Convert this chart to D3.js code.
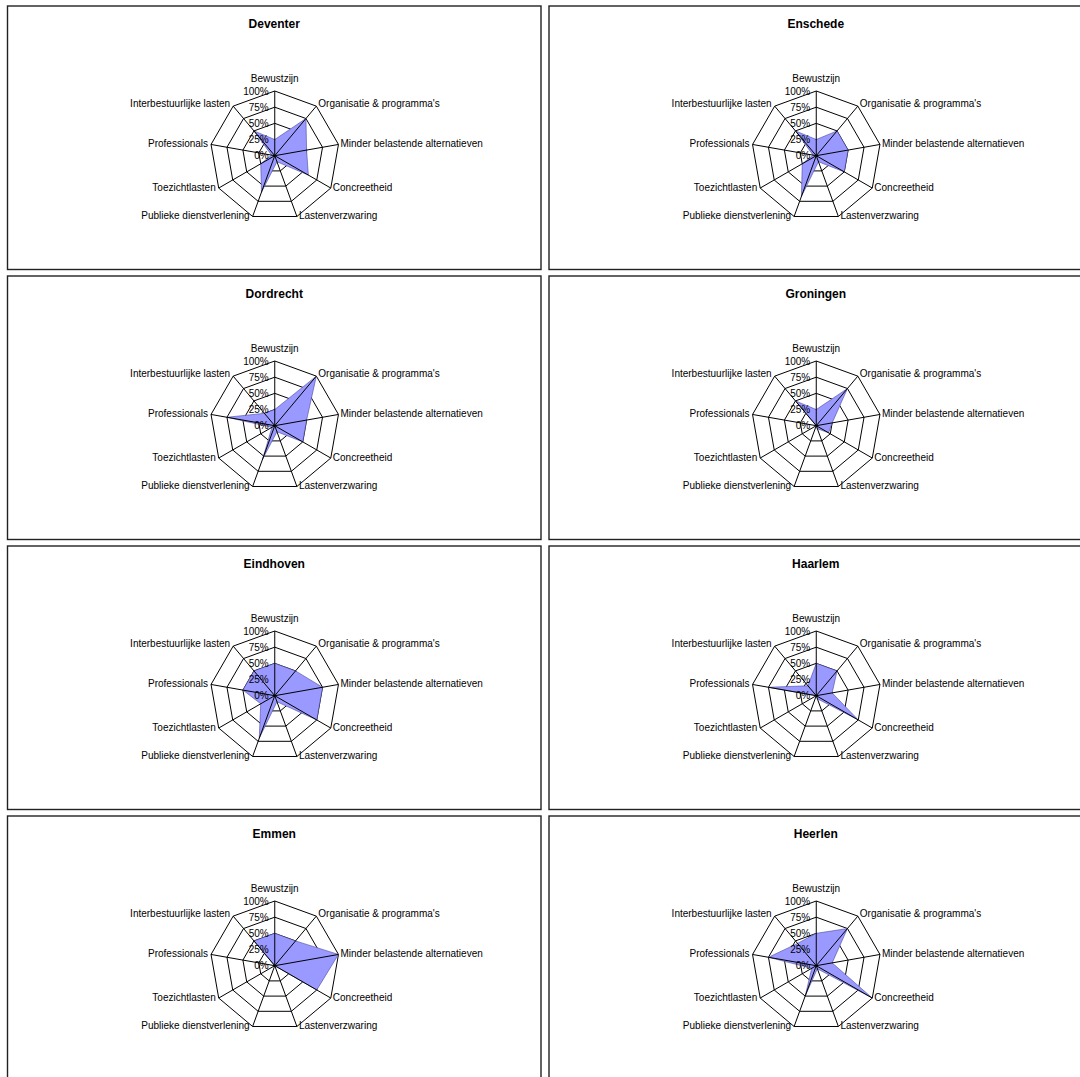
<!DOCTYPE html>
<html>
<head>
<meta charset="utf-8">
<script src="https://cdn.jsdelivr.net/npm/d3@7"></script>
<style>
html,body{margin:0;padding:0;background:#fff;}
svg{display:block;font-family:"Liberation Sans",Arial,sans-serif;}
</style>
</head>
<body>
<svg id="chart" width="1080" height="1077"></svg>
<script>
// ---- data ----
const categories = ["Bewustzijn", "Organisatie & programma's", "Minder belastende alternatieven", "Concreetheid", "Lastenverzwaring", "Publieke dienstverlening", "Toezichtlasten", "Professionals", "Interbestuurlijke lasten"];
const cities = ["Deventer", "Enschede", "Dordrecht", "Groningen", "Eindhoven", "Haarlem", "Emmen", "Heerlen"];
const deventer  = [0.25, 0.75, 0.50, 0.60, 0.10, 0.60, 0.25, 0.05, 0.50];
const enschede  = [0.25, 0.50, 0.50, 0.50, 0.10, 0.67, 0.25, 0.05, 0.50];
const dordrecht = [0.25, 1.00, 0.50, 0.50, 0.10, 0.55, 0.05, 0.75, 0.25];
const groningen = [0.25, 0.75, 0.25, 0.22, 0.05, 0.00, 0.00, 0.00, 0.50];
const eindhoven = [0.50, 0.50, 0.75, 0.75, 0.10, 0.70, 0.25, 0.50, 0.50];
const haarlem   = [0.50, 0.50, 0.25, 0.75, 0.05, 0.00, 0.00, 0.75, 0.20];
const emmen     = [0.50, 0.50, 1.00, 0.75, 0.00, 0.00, 0.00, 0.00, 0.50];
const heerlen   = [0.50, 0.75, 0.25, 1.00, 0.05, 0.50, 0.08, 0.75, 0.45];
const seriesValues = [deventer, enschede, dordrecht, groningen, eindhoven, haarlem, emmen, heerlen];
const tickValues = [0, 0.25, 0.5, 0.75, 1];
const tickLabels = ["0%", "25%", "50%", "75%", "100%"];

// ---- layout ----
const svg = d3.select("#chart");
const colX = [7.5, 549];
const rowY0 = 6, rowStep = 270;
const panelW = 533.5, panelH = 263.5;
const R = 64.7;
const n = categories.length;
const angle = d3.scaleLinear().domain([0, n]).range([0, 2 * Math.PI]);
const r = d3.scaleLinear().domain([0, 1]).range([0, R]);
const fillColor = "#9999ff";

const radial = d3.lineRadial()
  .angle((d, i) => angle(i))
  .radius(d => r(d))
  .curve(d3.curveLinearClosed);

cities.forEach((city, k) => {
  const col = k % 2, row = Math.floor(k / 2);
  const x0 = colX[col], y0 = rowY0 + row * rowStep;
  const g = svg.append("g");

  g.append("rect")
    .attr("x", x0).attr("y", y0)
    .attr("width", panelW).attr("height", panelH)
    .attr("fill", "none").attr("stroke", "#222").attr("stroke-width", 1.4);

  g.append("text")
    .attr("x", x0 + panelW / 2).attr("y", y0 + 22)
    .attr("text-anchor", "middle")
    .attr("font-size", 12).attr("font-weight", "bold")
    .text(city);

  const cx = x0 + panelW / 2 + 0.5, cy = y0 + 149.7;
  const c = g.append("g").attr("transform", `translate(${cx},${cy})`);

  // rings
  tickValues.filter(v => v > 0).forEach(v => {
    c.append("path")
      .attr("d", radial(categories.map(() => v)))
      .attr("fill", "none").attr("stroke", "#000").attr("stroke-width", 1);
  });

  // series fill
  c.append("path")
    .attr("d", radial(seriesValues[k]))
    .attr("fill", fillColor)
    .attr("stroke", "#4a4aa0").attr("stroke-width", 0.6);

  // spokes
  categories.forEach((cat, i) => {
    const a = angle(i);
    c.append("line")
      .attr("x1", 0).attr("y1", 0)
      .attr("x2", r(1) * Math.sin(a)).attr("y2", -r(1) * Math.cos(a))
      .attr("stroke", "#000").attr("stroke-width", 1);
  });

  // tick labels
  tickValues.forEach((v, i) => {
    c.append("text")
      .attr("x", -6).attr("y", -r(v))
      .attr("dy", "0.35em")
      .attr("text-anchor", "end")
      .attr("font-size", 10)
      .text(tickLabels[i]);
  });

  // category labels
  categories.forEach((cat, i) => {
    const a = angle(i);
    const s = Math.sin(a), co = Math.cos(a);
    const vx = r(1) * s, vy = -r(1) * co;
    let x = vx, y = vy, anchor = "middle", dy = "0.35em";
    if (i === 0) { y = vy - 9.5; dy = "0"; }
    else if (s > 0) { x = vx + 2; anchor = "start"; y = vy - (co > 0.5 ? 3 : 1); }
    else { x = vx - 3; anchor = "end"; y = vy - (co > 0.5 ? 3 : 1); }
    c.append("text")
      .attr("x", x).attr("y", y).attr("dy", dy)
      .attr("text-anchor", anchor)
      .attr("font-size", 10)
      .text(cat);
  });
});
</script>
</body>
</html>
